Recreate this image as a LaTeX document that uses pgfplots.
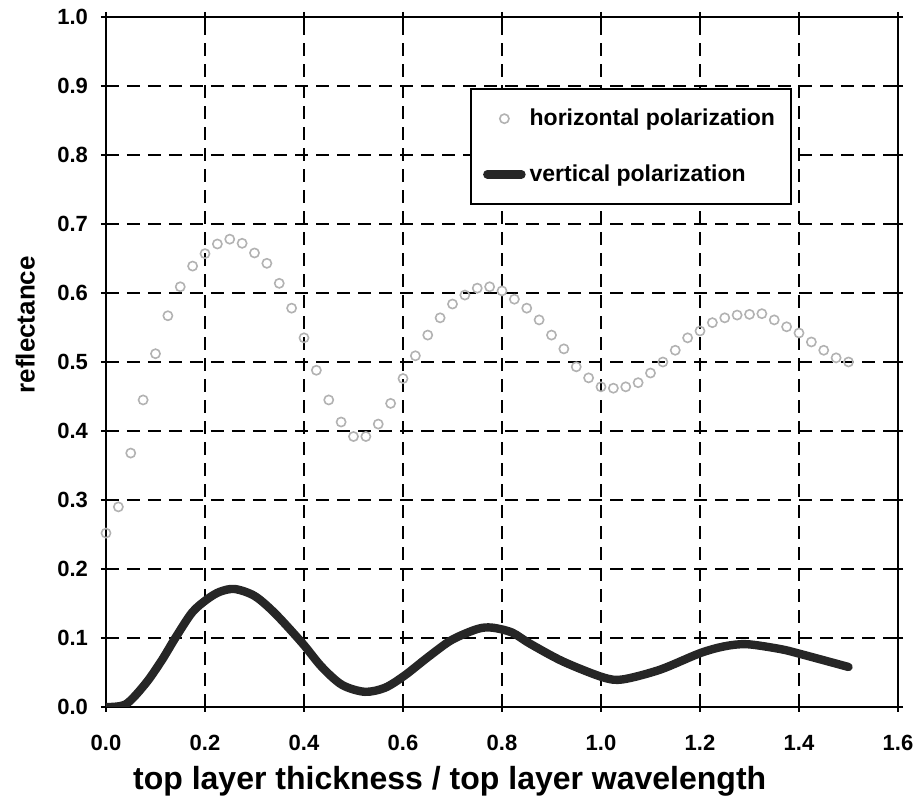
\documentclass[border=0pt]{standalone}
\usepackage{pgfplots}
\pgfplotsset{compat=1.18}
\usepackage{fontspec}
\setmainfont{Liberation Sans}
\begin{document}
\begin{tikzpicture}
\begin{axis}[
  at={(0,0)}, anchor=south west,
  scale only axis, width=396pt, height=345pt,
  xmin=0, xmax=1.6, ymin=0, ymax=1.0,
  xtick={0,0.2,0.4,0.6,0.8,1.0,1.2,1.4,1.6},
  ytick={0,0.1,0.2,0.3,0.4,0.5,0.6,0.7,0.8,0.9,1.0},
  xticklabels={0.0,0.2,0.4,0.6,0.8,1.0,1.2,1.4,1.6},
  yticklabels={0.0,0.1,0.2,0.3,0.4,0.5,0.6,0.7,0.8,0.9,1.0},
  /pgf/number format/assume math mode=true,
  ticklabel style={font=\bfseries\fontsize{11}{13}\selectfont},
  xticklabel style={yshift=-8pt},
  yticklabel style={xshift=-3pt},
  tick align=center, major tick length=5pt,
  tick style={black, line width=1pt},
  axis line style={black, line width=1.4pt},
  grid=major,
  grid style={black, line width=0.9pt, dash pattern=on 6.5pt off 4pt},
  xlabel={top layer thickness / top layer wavelength},
  ylabel={reflectance},
  xlabel style={font=\bfseries\fontsize{16}{19}\selectfont, at={(axis description cs:0.434,0)}, anchor=center, yshift=-37pt},
  ylabel style={font=\bfseries\fontsize{13}{16}\selectfont, at={(axis description cs:-0.102,0.554)}, anchor=center},
  legend style={at={(rel axis cs:0.46,0.897)}, anchor=north west, draw=black, line width=0.8pt,
    font=\bfseries\fontsize{11.5}{14}\selectfont, row sep=14pt, inner ysep=8pt, inner xsep=6pt,
    cells={anchor=west}},
  legend cell align=left,
]
\addplot[only marks, mark=o, mark size=2.3pt, mark options={draw=gray!60, line width=0.8pt}] coordinates {
(0.000,0.252) (0.025,0.290) (0.050,0.368) (0.075,0.445) (0.100,0.512)
(0.125,0.567) (0.150,0.609) (0.175,0.639) (0.200,0.657) (0.225,0.671)
(0.250,0.678) (0.275,0.672) (0.300,0.658) (0.325,0.643) (0.350,0.614)
(0.375,0.578) (0.400,0.535) (0.425,0.488) (0.450,0.445) (0.475,0.413)
(0.500,0.392) (0.525,0.392) (0.550,0.410) (0.575,0.440) (0.600,0.476)
(0.625,0.509) (0.650,0.539) (0.675,0.564) (0.700,0.584) (0.725,0.597)
(0.750,0.607) (0.775,0.609) (0.800,0.603) (0.825,0.591) (0.850,0.578)
(0.875,0.561) (0.900,0.539) (0.925,0.519) (0.950,0.493) (0.975,0.477)
(1.000,0.464) (1.025,0.462) (1.050,0.464) (1.075,0.470) (1.100,0.484)
(1.125,0.500) (1.150,0.517) (1.175,0.535) (1.200,0.545) (1.225,0.557)
(1.250,0.564) (1.275,0.568) (1.300,0.569) (1.325,0.570) (1.350,0.561)
(1.375,0.551) (1.400,0.542) (1.425,0.529) (1.450,0.517) (1.475,0.506)
(1.500,0.500)
};
\addlegendentry{horizontal polarization}
\addplot[smooth, black!85, line width=4.2pt, line cap=round] coordinates {
(0,0) (0.04,0.004) (0.08,0.034) (0.113,0.068) (0.14,0.100) (0.174,0.137)
(0.204,0.156) (0.23,0.167) (0.26,0.171) (0.30,0.161) (0.341,0.136)
(0.396,0.093) (0.436,0.058) (0.477,0.032) (0.523,0.022) (0.564,0.028)
(0.604,0.046) (0.65,0.072) (0.698,0.097) (0.75,0.113) (0.78,0.115)
(0.82,0.108) (0.856,0.092) (0.923,0.066) (1.004,0.043) (1.044,0.040)
(1.119,0.054) (1.2,0.078) (1.25,0.088) (1.295,0.091) (1.362,0.084)
(1.402,0.077) (1.5,0.058)
};
\addlegendentry{vertical polarization}
\end{axis}
\pgfresetboundingbox
\path (-53pt,-49.5pt) rectangle (407.5pt,353.5pt);
\end{tikzpicture}
\end{document}
